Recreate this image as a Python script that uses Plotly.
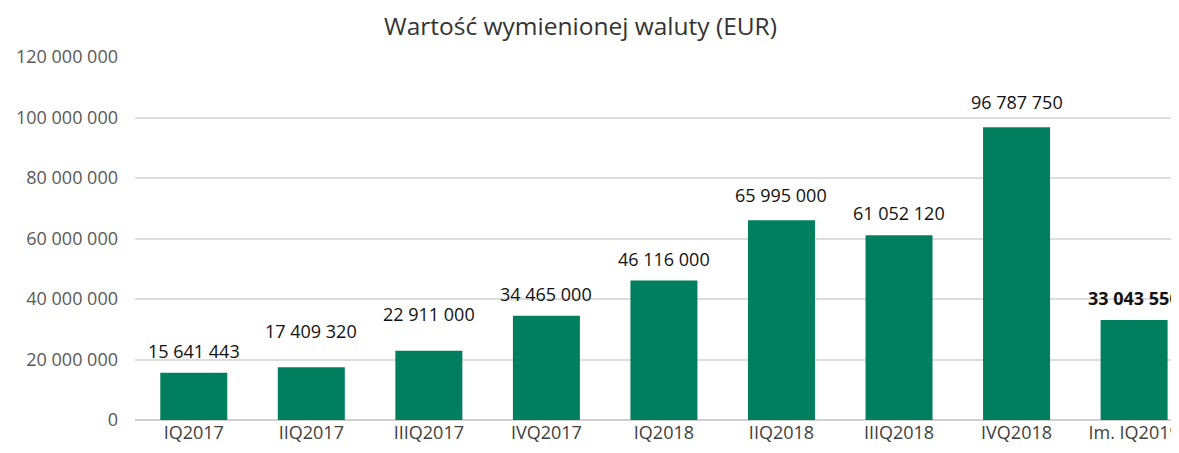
import plotly.graph_objects as go

categories = ["IQ2017", "IIQ2017", "IIIQ2017", "IVQ2017", "IQ2018",
              "IIQ2018", "IIIQ2018", "IVQ2018", "Im. IQ2019"]
values = [15641443, 17409320, 22911000, 34465000, 46116000,
          65995000, 61052120, 96787750, 33043550]
value_labels = ["15 641 443", "17 409 320", "22 911 000", "34 465 000", "46 116 000",
                "65 995 000", "61 052 120", "96 787 750", "33 043 550"]
bold_flags = [False, False, False, False, False, False, False, False, True]
y_ticks = [0, 20000000, 40000000, 60000000, 80000000, 100000000, 120000000]
y_tick_labels = ["0", "20 000 000", "40 000 000", "60 000 000", "80 000 000",
                 "100 000 000", "120 000 000"]

# extra vertical offset (px) of individual value labels, as placed in the original
label_extra_shift = [0, 14, 15, 0, 0, 3, 0, 3, 0]

FONT = "Open Sans, Noto Sans, sans-serif"
GREEN = "#007F5F"

fig = go.Figure()
fig.add_trace(go.Bar(
    x=categories, y=values, width=0.57,
    marker=dict(color=GREEN, line=dict(width=0)),
    hoverinfo="skip",
))

annotations = []
for c, v, lab, b, s in zip(categories, values, value_labels, bold_flags, label_extra_shift):
    annotations.append(dict(
        x=c, y=v, xref="x", yref="y", text=lab, showarrow=False,
        yanchor="bottom", yshift=8 + s,
        font=dict(family=FONT, size=18, color="#111111",
                  weight="bold" if b else "normal"),
    ))

fig.update_layout(
    width=1179, height=453,
    margin=dict(l=127, r=0, t=49, b=41),
    plot_bgcolor="white", paper_bgcolor="white",
    showlegend=False,
    title=dict(text="Wartość wymienionej waluty (EUR)", x=0.4856, xanchor="center",
               xref="container", y=0.96, yanchor="middle", yref="container",
               font=dict(family=FONT, size=24.5, color="#333333")),
    annotations=annotations,
    bargap=0.43,
)
fig.update_xaxes(
    range=[-0.5, 8.45], showgrid=False, showline=False, ticks="",
    tickfont=dict(family=FONT, size=18, color="#404040"),
    fixedrange=True,
)
fig.update_yaxes(
    range=[0, 120000000], tickvals=y_ticks, ticktext=y_tick_labels,
    showgrid=True, gridcolor="#DDDDDD", gridwidth=1.5,
    zeroline=True, zerolinecolor="#D0D0D0", zerolinewidth=1.5,
    showline=False, ticks="", ticklabelstandoff=16,
    tickfont=dict(family=FONT, size=18, color="#595959"),
    fixedrange=True,
)

fig.write_html("out.html")
